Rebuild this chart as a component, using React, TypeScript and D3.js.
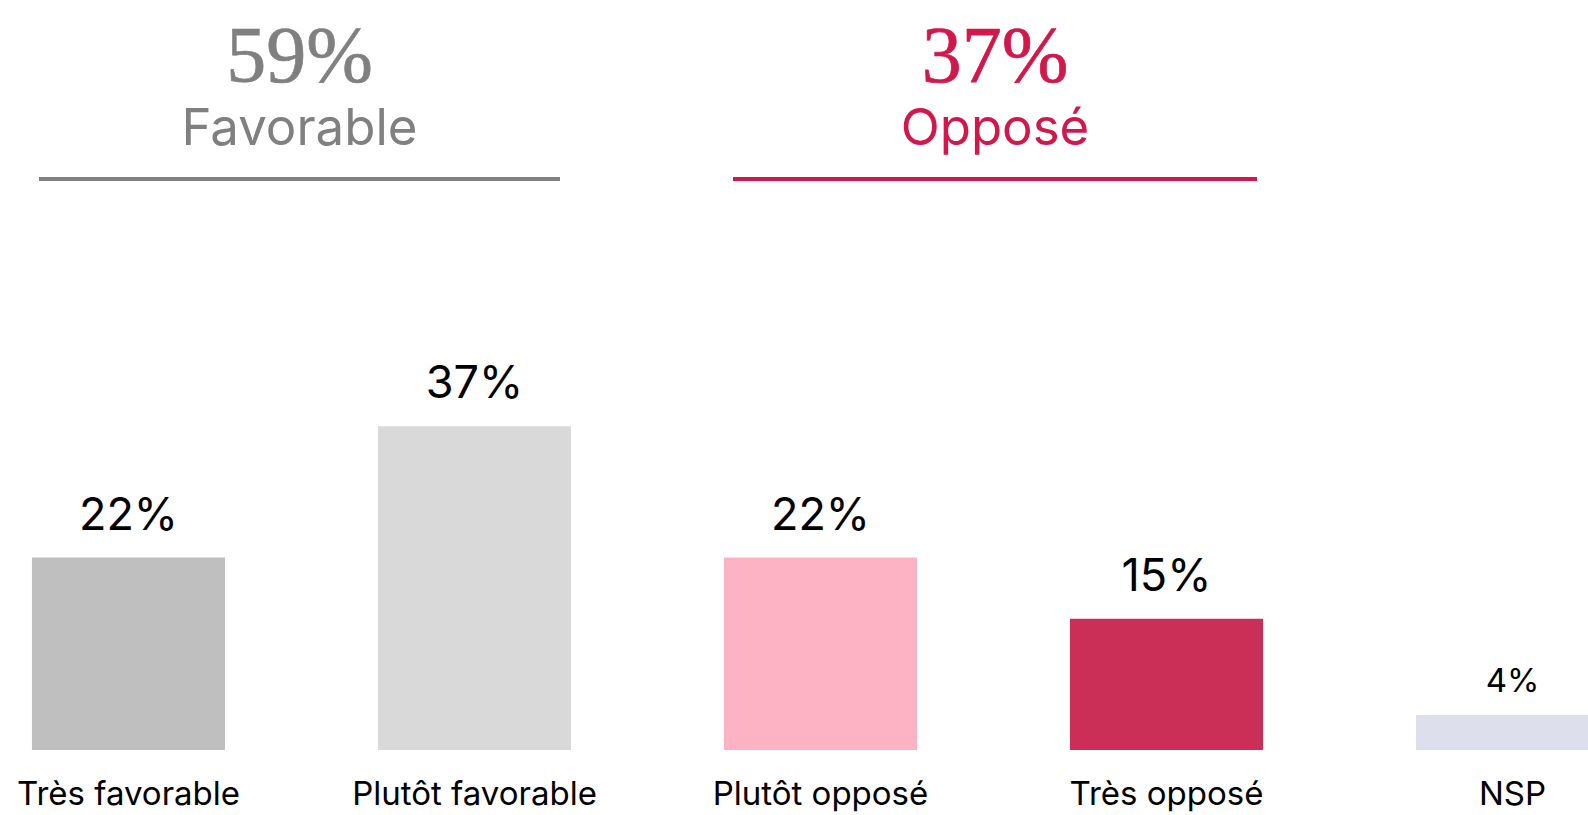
import React from "react";
import * as d3 from "d3";

const categories = ["Très favorable", "Plutôt favorable", "Plutôt opposé", "Très opposé", "NSP"];
const values = [22, 37, 22, 15, 4];
const barColors = ["#BFBFBF", "#D9D9D9", "#FDB3C4", "#CB2E57", "#DDE0EC"];
const groups = [
  { total: "59%", label: "Favorable", color: "#808080", x0: 39, x1: 560 },
  { total: "37%", label: "Opposé", color: "#D2184A", x0: 733, x1: 1257 },
];

const W = 1588;
const H = 815;
const SANS = "Inter, 'Noto Sans', sans-serif";
const SERIF = "'Liberation Serif', 'DejaVu Serif', serif";

export default function App() {
  const x = d3
    .scaleBand<string>()
    .domain(categories)
    .range([-44.5, 1685.5])
    .paddingInner(0.442)
    .paddingOuter(0.221);
  const y = d3.scaleLinear().domain([0, 40]).range([750, 400]);

  return (
    <svg
      width={W}
      height={H}
      style={{ position: "fixed", left: 0, top: 0, background: "#fff" }}
    >
      {groups.map((g) => {
        const cx = (g.x0 + g.x1) / 2;
        return (
          <g key={g.label}>
            <text
              x={cx}
              y={82}
              textAnchor="middle"
              fontFamily={SERIF}
              fontSize={80}
              fill={g.color}
              stroke={g.color}
              strokeWidth={0.7}
            >
              {g.total}
            </text>
            <text
              x={cx}
              y={145}
              textAnchor="middle"
              fontFamily={SANS}
              fontSize={51}
              fill={g.color}
            >
              {g.label}
            </text>
            <line x1={g.x0} x2={g.x1} y1={179} y2={179} stroke={g.color} strokeWidth={4} />
          </g>
        );
      })}
      {categories.map((c, i) => {
        const bx = x(c)!;
        const bw = x.bandwidth();
        const cx = bx + bw / 2;
        const small = c === "NSP";
        return (
          <g key={c}>
            <rect x={bx} y={y(values[i])} width={bw} height={y(0) - y(values[i])} fill={barColors[i]} />
            <text
              x={cx}
              y={y(values[i]) - (small ? 23 : 28)}
              textAnchor="middle"
              fontFamily={SANS}
              fontSize={small ? 33 : 45}
              fill="#000"
            >
              {values[i]}%
            </text>
            <text
              x={cx}
              y={805}
              textAnchor="middle"
              fontFamily={SANS}
              fontSize={33}
              fill="#000"
            >
              {c}
            </text>
          </g>
        );
      })}
    </svg>
  );
}
